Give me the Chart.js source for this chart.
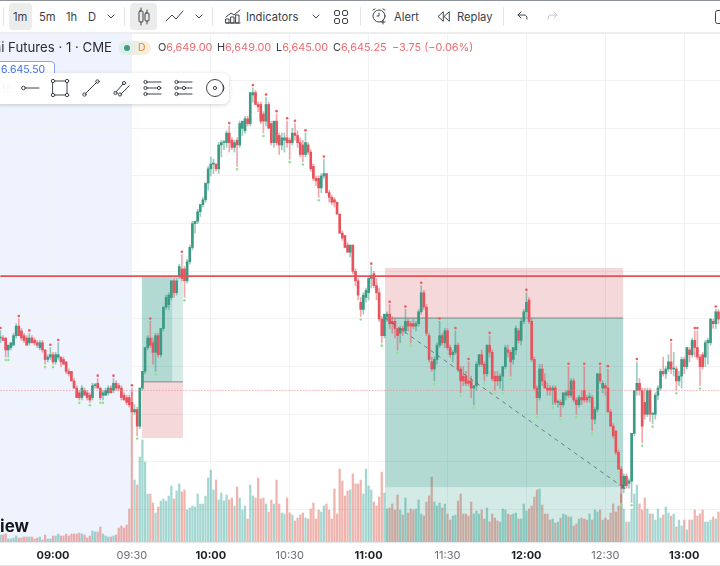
<!DOCTYPE html>
<html lang="en">
<head>
<meta charset="UTF-8">
<title>E-mini Futures 1m</title>
<style>
    html, body { margin: 0; padding: 0; background: #fff; overflow: hidden; }
    body { width: 720px; height: 566px; position: relative; font-family: Inter, "Noto Sans", sans-serif; color: #3b3e46; }
    #chartBox { position: absolute; left: 0; top: 33px; width: 720px; height: 533px; }
    #topBar { position: absolute; left: 0; top: 0; width: 720px; height: 32px; background: #fff; border-top: 1.5px solid #8d929b; box-sizing: border-box; z-index: 3; }
    #barEdge { position: absolute; left: 0; top: 32px; width: 720px; height: 2px; background: #eeeeee; z-index: 3; }
    #pageEdge { position: absolute; left: 0; top: 565px; width: 720px; height: 1px; background: #e6e6e6; z-index: 3; }
    .t { position: absolute; top: 10px; font-size: 11.2px; line-height: 15px; white-space: nowrap; z-index: 4; }
    .btn { position: absolute; top: 3px; height: 27px; background: #ececec; border-radius: 4px; z-index: 3; }
    .sep { position: absolute; top: 7px; width: 1px; height: 19px; background: #e3e4e6; z-index: 4; }
    svg { position: absolute; z-index: 4; overflow: visible; fill: none; stroke: #3f424a; stroke-width: 1; stroke-linecap: round; stroke-linejoin: round; }
    .leg { position: absolute; top: 40px; font-size: 10.9px; line-height: 15px; white-space: nowrap; z-index: 2; }
    .r { color: #ee6a70; }
    #symbol { position: absolute; right: 608px; top: 40px; font-size: 13.2px; line-height: 15px; white-space: nowrap; color: #2b2e36; z-index: 2; }
    #badge { position: absolute; left: 119px; top: 41px; width: 32px; height: 14px; border-radius: 7px; background: linear-gradient(90deg, #d8efe9, #fdeee0); z-index: 2; }
    #badge i { position: absolute; left: 5px; top: 4px; width: 6px; height: 6px; border-radius: 3px; background: #3e9c86; }
    #badge b { position: absolute; left: 19px; top: 0; font-size: 10.5px; line-height: 14px; color: #ef9a3c; font-weight: 500; }
    #priceTag { position: absolute; left: -12px; top: 61px; width: 65px; height: 14px; border: 1px solid #86a5f7; border-radius: 4px; background: #fff; color: #3f6fee; font-size: 10.5px; line-height: 15px; z-index: 2; }
    #priceTag span { position: absolute; left: 12px; top: 0; }
    #drawBar { position: absolute; left: -8px; top: 73px; width: 237px; height: 31px; background: #fff; border-radius: 6px; box-shadow: 0 1px 4px rgba(0,0,0,.18); z-index: 2; }
    #watermark { position: absolute; right: 691px; top: 516px; font-size: 17px; line-height: 20px; font-weight: 700; color: #131722; white-space: nowrap; z-index: 2; text-shadow: 0 0 3px #fff; }
</style>
</head>
<body>

<div id="topBar"></div>
<div id="barEdge"></div>
<div id="pageEdge"></div>

<div class="sep" style="left:3px"></div>
<div class="btn" style="left:9px;width:23px"></div>
<div class="t" style="left:13px">1m</div>
<div class="t" style="left:39px">5m</div>
<div class="t" style="left:66px">1h</div>
<div class="t" style="left:88px">D</div>
<svg style="left:107px;top:15px" width="8" height="4"><path d="M1 0l3 3 3-3"/></svg>
<div class="sep" style="left:124px"></div>
<div class="btn" style="left:130px;width:27px"></div>
<svg style="left:137px;top:8px" width="14" height="18"><path d="M4 0v3M4 14v3M10 2v3M10 13v3"/><rect x="2" y="3" width="4" height="11" rx="1"/><rect x="8" y="5" width="4" height="8" rx="1"/></svg>
<svg style="left:165px;top:10px" width="19" height="13"><path d="M1 11l6-6 4 4 7-8"/></svg>
<svg style="left:195px;top:15px" width="8" height="4"><path d="M1 0l3 3 3-3"/></svg>
<div class="sep" style="left:212px"></div>
<svg style="left:225px;top:8px" width="16" height="16"><path d="M1 9l5-4 3 2 6-5M1 15h14"/><rect x="1" y="11" width="3" height="4"/><rect x="6" y="9" width="3" height="6"/><rect x="11" y="7" width="3" height="8"/></svg>
<div class="t" style="left:246px">Indicators</div>
<svg style="left:312px;top:15px" width="8" height="4"><path d="M1 0l3 3 3-3"/></svg>
<svg style="left:334px;top:10px" width="14" height="14"><rect x="0.5" y="0.5" width="5" height="5" rx="1.5"/><rect x="8.5" y="0.5" width="5" height="5" rx="1.5"/><rect x="0.5" y="8.5" width="5" height="5" rx="1.5"/><rect x="8.5" y="8.5" width="5" height="5" rx="1.5"/></svg>
<div class="sep" style="left:360px"></div>
<svg style="left:371px;top:8px" width="16" height="16"><circle cx="8" cy="8" r="6"/><path d="M8 5v3h-2M2 2l2-1M14 2l-2-1M12 12v4M10 14h4"/></svg>
<div class="t" style="left:394px">Alert</div>
<svg style="left:437px;top:11px" width="13" height="11"><path d="M6 1L1 5.5 6 10zM12 1L7 5.5 12 10z"/></svg>
<div class="t" style="left:457px">Replay</div>
<div class="sep" style="left:503px"></div>
<svg style="left:517px;top:11px" width="11" height="9"><path d="M4 1L1 4l3 3M1 4h6c2 0 3 1 3 4"/></svg>
<svg style="left:547px;top:11px;stroke:#c4c6ca" width="11" height="9"><path d="M7 1l3 3-3 3M10 4H4C2 4 1 5 1 8"/></svg>
<svg style="left:715px;top:10px" width="10" height="14"><rect x="0.5" y="0.5" width="12" height="13" rx="2"/></svg>

<div id="symbol">S&amp;P 500 E-mini Futures · 1 · CME</div>
<div id="badge"><i></i><b>D</b></div>
<div class="leg" style="left:158px">O<span class="r">6,649.00</span></div>
<div class="leg" style="left:217px">H<span class="r">6,649.00</span></div>
<div class="leg" style="left:276px">L<span class="r">6,645.00</span></div>
<div class="leg" style="left:333px">C<span class="r">6,645.25</span></div>
<div class="leg r" style="left:392px">−3.75 (−0.06%)</div>

<div id="priceTag"><span>6,645.50</span></div>
<div id="drawBar"></div>
<svg style="left:3px;top:84px;z-index:5;stroke:#c9cbcf" width="6" height="9"><path d="M1 1h0M5 1h0M1 4h0M5 4h0M1 8h0M5 8h0"/></svg>
<svg style="left:21px;top:84px;z-index:5" width="18" height="8"><circle cx="2.5" cy="4" r="1.8"/><path d="M4.5 4H18"/></svg>
<svg style="left:51px;top:79px;z-index:5" width="18" height="18"><rect x="2" y="2" width="14" height="14"/><circle cx="2" cy="2" r="1.7" fill="#fff"/><circle cx="16" cy="2" r="1.7" fill="#fff"/><circle cx="2" cy="16" r="1.7" fill="#fff"/><circle cx="16" cy="16" r="1.7" fill="#fff"/></svg>
<svg style="left:82px;top:79px;z-index:5" width="18" height="18"><path d="M3 15L15 3"/><circle cx="2.5" cy="15.5" r="1.7"/><circle cx="15.5" cy="2.5" r="1.7"/></svg>
<svg style="left:113px;top:79px;z-index:5" width="18" height="18"><path d="M3 13L10 5M8 15l8-8"/><circle cx="2.5" cy="14" r="1.6"/><circle cx="11" cy="4" r="1.6"/><circle cx="7" cy="15.5" r="1.6"/></svg>
<svg style="left:143px;top:79px;z-index:5" width="19" height="18"><path d="M4 3h14M4 9h14M4 15h14"/><circle cx="2.5" cy="3" r="1.6"/><circle cx="2.5" cy="9" r="1.6"/><circle cx="2.5" cy="15" r="1.6"/><circle cx="16" cy="9" r="1.6" fill="#fff"/></svg>
<svg style="left:174px;top:79px;z-index:5" width="19" height="18"><path d="M4 3h14M4 9h14M4 15h14"/><circle cx="2.5" cy="3" r="1.6"/><circle cx="2.5" cy="9" r="1.6"/><circle cx="2.5" cy="15" r="1.6"/><circle cx="10" cy="9" r="1.6" fill="#fff"/></svg>
<svg style="left:206px;top:79px;z-index:5" width="19" height="18"><circle cx="9" cy="9" r="8.5"/><circle cx="9" cy="9" r="1.6"/><path d="M17 6l1 3-1 3"/></svg>

<div id="watermark">TradingView</div>

<div id="chartBox"><canvas id="chart"></canvas></div>

<script src="https://cdn.jsdelivr.net/npm/chart.js"></script>
<script>
    // one candle per minute, first one at 08:40. Prices are points above priceBase
    const priceBase = 6600;
    const firstMinute = 520;

    const opens = [
        43,43,43,41.75,42,42.25,43.25,44.25,43.75,43.25,
        43,42.5,43,42.75,42.5,42,42.5,41.75,40.75,41,
        41.25,40.5,41,41,40.75,40.5,39.5,39.5,38.5,37.75,
        37.25,36.75,37.5,37.25,37,36.75,38,38.25,37.75,37,
        37,37.25,37.75,37.5,38.25,38,37.75,37,36.75,36.75,
        36.25,35.25,35.5,33.75,37.75,39.5,42,43,42.5,41.5,
        43.25,41.25,44,46.25,46.5,47.25,49,47.75,49.5,50.25,
        50.25,49,51,52.5,55,55.25,56.25,57,57.5,59.25,
        60.75,61.25,61.25,60.75,63.25,63.5,63.5,64.5,63.75,63,
        63.75,63.25,65,64.75,66,65.5,68.5,68.75,67.5,67.5,
        66.5,65.75,67.5,65.5,63.5,65.75,64.25,63.25,63.75,64,
        63.75,63.5,64.5,64.25,63.5,63.25,62.25,63.25,62.5,61,
        59.75,59.75,58.75,60,60.25,58.25,57.75,57.5,57.25,56,
        54,53.75,52.75,52,52.75,50,49,46.75,46,47.25,
        47.75,49.25,49.75,48.5,47.75,45,43.25,45.25,45.5,44.75,
        44.75,44,43.5,44,43.75,44.75,44.5,44.5,44.25,44.5,
        45.75,47.75,46.25,43.25,40.5,39.75,40.75,42.25,43.25,42.5,
        43.75,42,41.25,41.5,42.25,39.75,39,39,38.5,38.5,
        37.75,38,40.25,41.25,40.25,39.25,42.25,41.5,39,39,
        38.5,39,40,41.75,41.5,40.75,41.75,43.75,42.75,44.75,
        45.75,47,44.75,40.75,37.75,36.75,39.75,38.5,37.75,37.75,
        37.5,37.75,36.25,36.25,36,37,37.5,37,38.5,36.5,
        36,36.75,37.5,36.75,36.75,36.75,34.5,35.5,39.25,37.75,
        38,37.75,35.25,33.75,33.25,31,29.25,27.5,28.5,27.75,
        28,33,37.5,38.25,37.5,36.25,35,37.5,35,35,
        37,37.75,39.5,39.25,39.75,40.5,39.75,39.75,38.5,39,
        40.75,40,41.75,41.25,42.75,42,41,41.25,41,42.5,
        42.5,44.75,44.5,45.75
    ];
    const highs = [
        43.75,43.25,43,42.25,42.5,43.5,44.5,45,44,43.5,
        43.25,43.5,43.25,43,42.75,42.75,42.75,41.75,41.25,42,
        41.5,41.5,42.5,41,41,40.5,39.75,39.5,38.75,38,
        37.5,38,37.75,37.5,37.25,38.25,38.25,38.75,37.75,37.5,
        37.75,38,38,38.75,38.5,38.25,38,37.25,37,37,
        37.75,36,35.75,37.75,39.5,42,43.25,44.75,43,43.5,
        43.5,44,46.25,47.5,47.75,49,49.25,49.25,50.75,51.75,
        50.5,51.25,52.75,55.25,55.25,56.5,57,57.75,59.25,61,
        62,61.75,61.25,63.5,63.75,63.75,64.75,65.25,64,63.75,
        64,65.75,65.75,66.25,66.25,68.75,69.25,69,67.75,67.75,
        66.75,68.25,67.75,65.75,65.75,66.5,64.5,64.5,64.5,65.75,
        64,65,65.5,64.75,64,63.75,64.5,63.5,62.75,61.25,
        60,60,60.25,61.75,60.25,58.5,58,57.75,57.25,56,
        54.25,53.75,53,52.75,52.75,50.25,49.25,47.25,47.75,48.25,
        49.5,50.5,50,49.25,48.25,45.25,45.5,45.75,46.5,45.25,
        45,44,44.25,44.25,46,45,44.75,45,44.75,46,
        48.5,48,46.5,43.5,41,41,42.5,44.75,43.5,44,
        44,42.25,41.75,43.75,42.5,40,40,39.5,40.5,39,
        38,40.5,41.25,41.75,40.5,42.25,43.25,41.75,39.5,39.5,
        39.25,40,42.25,42.25,41.75,42,44.25,44,45,46,
        47.75,47.25,45,41,38,40.25,40.25,39.25,38.25,38,
        38,38,36.5,36.5,37.25,37.5,40,38.75,38.75,36.75,
        37,37.5,40,37,37.25,37,35.75,39.25,40,38.5,
        38.25,39.75,35.5,34,33.25,31.25,29.5,28.75,28.75,28.25,
        33,37.5,40.5,38.75,37.75,37.75,37.75,37.75,35.25,37.25,
        38,39.75,41,40,41.25,42.5,41.5,40,39.5,41,
        41,42,42,43,43.75,43.75,41.25,41.5,42.75,43,
        45,45,46,46
    ];
    const lows = [
        42.5,42.75,41,41,41.75,42.25,43,43.25,42.75,42.5,
        42.25,42.25,42.5,42.25,42,41.75,41.5,40.25,40.5,40.75,
        40.25,40.25,40.75,40,40.25,39.25,39,38.5,37.75,36.75,
        36.5,36.5,37,36.5,36.25,36.5,37.75,37.75,36.5,36.5,
        37,37,37.25,37.25,37.5,37.5,36.5,36.5,36,35.75,
        35.25,35,32.75,33.5,37.5,39.25,41.75,42,40.25,39.5,
        41,41,43.75,46,46,47,47.25,47.5,49.25,49,
        47.25,48.75,50.75,52.25,54,55,55.75,56.75,57.25,58.5,
        60,60.25,60.5,60.25,62,62.75,63,62.5,62.75,62.5,
        61,63,64.25,64.5,65.25,65.25,67.75,67.5,66.75,65.5,
        64.5,65.25,65,63.25,63,63.25,62.25,62.75,62.5,63,
        61.75,63.25,63.75,63,62,61.5,62,62.25,60.5,59.5,
        59,57.75,58.25,59.75,58.25,57.25,57,56.75,56,54,
        53.25,52.5,52,51.5,49.75,48.5,47,45.25,45.5,46.75,
        47,48.25,48.25,47,44.75,42.5,43,44.75,44,43.5,
        43,41.75,42.5,43.25,43.5,43.75,42.5,44,43.75,44.25,
        45.5,46,43.25,40.5,39.5,38.5,40.25,42,42.25,42,
        41.75,41,40.5,41.25,39.5,37.25,38,38,38,36.75,
        36,37.5,40,40,38.5,39,41,38.5,37.5,38,
        37.75,37.5,39.75,41,39,40.25,41.25,42.5,42.25,44.5,
        45.25,44.5,40.5,37.5,35,36.5,38,37.75,37,37,
        36,36,35.75,34.75,35.75,36.5,36.75,36.75,36.25,35,
        35.75,36,36.25,36.25,36.25,33.25,34,35.25,38.25,37.25,
        37,35.25,33.75,32.5,30.75,29.25,25.75,26.75,27.25,27.25,
        25.75,32.75,37,37,32,34.5,34.75,34.25,34,34.5,
        36.5,37.5,39,38.75,39.5,39.25,39,37.5,38,37.75,
        39.25,39.75,40.5,41,41,40.75,38,39.75,40,40.25,
        42.25,44,44,44.5
    ];
    const closes = [
        43,42.75,41.75,42.25,42.5,43.25,44.25,43.25,43,42.75,
        42.25,43,42.5,42.5,42.25,42.5,41.75,40.75,41,41.25,
        40.5,41.25,41.25,40.5,40.25,39.5,39.25,38.5,37.75,36.75,
        36.75,37.75,37,36.75,36.5,38,38,37.75,36.75,37.25,
        37.5,37.75,37.25,38.25,37.75,37.75,36.75,36.5,36.25,36,
        35.25,35.5,33.75,37.75,39.5,42,43,42.25,41.5,43.25,
        41.25,44,46.25,47.25,47.5,49,47.75,49,50.5,49.25,
        49,51,52.5,55,55.25,56.25,57,57.5,59.25,60.75,
        61.25,61.25,60.75,63.25,63.5,63.5,64.5,63.5,63,63.5,
        63.25,65.5,65.75,66,65.5,68.75,68.75,67.5,67.25,65.75,
        65.75,67.5,65,63.5,65.75,63.5,63.25,64,64,63.5,
        63.5,64.5,64.25,63.5,62.25,62.25,63.5,62.5,60.75,59.75,
        59.5,58.75,60,60.25,58.25,57.75,57.25,57.25,56,54,
        53.5,52.5,52,52.75,50,49,47.5,46,47.5,48,
        49.25,49.5,48.5,47.75,45,43.25,45.5,45.5,44.5,44.5,
        44,43.25,44,43.75,44.75,44.25,44.25,44.25,44.5,45.75,
        47.75,46.25,43.5,40.75,39.75,40.75,42.25,43.25,42.5,43.75,
        42,41.25,41.5,42.25,39.75,38.5,38.5,38.25,38.25,37.75,
        38,40.25,41.25,40.25,39.25,42.25,41.5,38.75,38.5,38.5,
        39,40,42,41.5,40.5,42,44,42.75,44.75,45.75,
        46.75,44.75,40.75,37.75,36.75,39.75,38.5,37.75,37.5,37.5,
        37.75,36.25,36.25,36,37.25,37.25,37,38.5,36.5,36,
        36.75,36.5,36.5,36.5,36.75,34.5,35.5,39.25,38.5,38.25,
        37.75,35.25,33.75,32.75,31,29.25,27.5,28.5,27.5,28,
        33,37.5,38.25,37.5,33.75,35,37.5,35,35,37,
        37.75,39.5,39.25,39.75,40.5,39.75,39.75,38.5,39,40.75,
        40,42,41.25,42.75,42,41,40,40,42.5,42.75,
        45,44.5,45.75,45
    ];
    // hundreds of contracts
    const volumes = [
        7,7,8,3,3,4,6,4,4,5,
        5,5,5,3,4,5,2,7,3,3,
        6,6,8,6,6,8,6,8,8,8,
        9,8,7,4,6,11,10,10,15,8,
        6,5,5,6,7,14,16,14,17,33,
        150,62,57,85,102,80,48,48,39,29,
        35,41,43,41,46,56,43,51,58,50,
        52,32,34,36,35,48,38,38,46,64,
        72,52,62,42,49,41,47,42,44,36,
        55,44,32,36,23,57,46,44,64,43,
        44,38,30,42,38,62,38,29,28,44,
        29,27,21,24,27,29,24,23,33,39,
        23,32,30,36,38,32,23,53,28,73,
        61,46,51,52,68,58,58,62,48,73,
        56,52,40,36,45,70,49,33,34,38,
        32,47,32,27,44,29,33,32,33,42,
        28,26,40,46,65,40,36,39,34,38,
        28,22,26,27,41,48,28,28,26,40,
        28,31,28,32,23,34,20,28,24,21,
        20,33,32,28,27,28,29,23,23,38,
        31,33,36,45,52,53,37,28,28,22,
        23,19,20,24,28,27,25,25,16,18,
        23,24,23,22,28,22,32,30,32,22,
        24,22,29,38,30,36,48,33,20,20,
        33,48,57,38,32,44,33,28,28,22,
        33,24,27,35,29,26,28,15,22,16,
        22,12,22,22,32,26,28,32,20,20,
        22,25,23,30
    ];

    // candle numbers that carry a swing marker
    const swingHighs = [0,7,11,19,22,37,43,50,57,69,87,96,101,105,109,112,116,123,141,148,154,160,167,173,178,186,200,216,222,228,231,242,255,264,265,272];
    const swingLows = [2,3,17,20,30,34,38,39,52,59,70,90,100,110,115,121,137,145,151,156,165,175,180,184,188,191,194,204,210,213,219,225,236,240,244,248,257,266];

    const tickLabels = ['09:00','09:30','10:00','10:30','11:00','11:30','12:00','12:30','13:00'];
    const firstTick = 540;

    const sessionOpen = 570;
    const stopLine = 6649.5;
    const prevClose = 6637.5;

    // long and short position tools: minutes and prices
    const longBox = { from: 573.8, split: 585.4, to: 589.4, target: 6649.4, entry: 6638.4, stop: 6632.5 };
    const shortBox = { from: 666.25, to: 756.75, stop: 6650.35, entry: 6645.1, reached: 6627.35, target: 6615 };
    const shortPath = { minutes: [666.25, 756.75], prices: [6645.1, 6627.35] };

    const GREEN = '#3b9a84', RED = '#e8525c';
    const minutes = opens.map((_, i) => firstMinute + i);
    const isUp = i => closes[i] >= opens[i];
    const isHour = c => c.tick && c.tick.value % 60 === 0;
    const swingPoints = (list, values, gap) => list.map(i => ({ x: minutes[i], y: priceBase + values[i] + gap }));

    const wickData = minutes.map((m, i) => ({ x: m, y: [priceBase + lows[i], priceBase + highs[i]] }));
    const bodyData = minutes.map((m, i) => ({ x: m, y: [priceBase + opens[i], priceBase + closes[i]] }));
    const volumeData = minutes.map((m, i) => ({ x: m, y: volumes[i] }));

    const positionTools = {
        id: 'positionTools',
        // session shading goes under the grid
        beforeDraw(chart) {
            const { ctx, chartArea, scales } = chart;
            ctx.save();
            ctx.fillStyle = '#eef3fe';
            ctx.fillRect(chartArea.left, chartArea.top, scales.x.getPixelForValue(sessionOpen) - chartArea.left, chartArea.height);
            ctx.restore();
        },
        // boxes sit over the volume, under the candles
        beforeDatasetDraw(chart, args) {
            if (args.index !== 1) return;
            const { ctx, chartArea, scales } = chart;
            const px = v => scales.x.getPixelForValue(v);
            const py = v => scales.y.getPixelForValue(v);
            const box = (x0, x1, y0, y1, color) => {
                ctx.fillStyle = color;
                ctx.fillRect(px(x0), py(y0), px(x1) - px(x0), py(y1) - py(y0));
            };
            const rule = (x0, x1, y) => {
                ctx.strokeStyle = 'rgba(110,110,110,.75)';
                ctx.lineWidth = 1;
                ctx.beginPath();
                ctx.moveTo(px(x0), py(y));
                ctx.lineTo(px(x1), py(y));
                ctx.stroke();
            };
            const dark = 'rgba(0,130,105,.3)', light = 'rgba(0,130,105,.17)', pink = 'rgba(205,70,80,.21)';
            ctx.save();
            ctx.beginPath();
            ctx.rect(chartArea.left, chartArea.top, chartArea.width, chartArea.height);
            ctx.clip();

            box(longBox.from, longBox.split, longBox.target, longBox.entry, dark);
            box(longBox.split, longBox.to, longBox.target, longBox.entry, light);
            box(longBox.from, longBox.to, longBox.entry, longBox.stop, pink);
            rule(longBox.from, longBox.to, longBox.entry);

            box(shortBox.from, shortBox.to, shortBox.stop, shortBox.entry, pink);
            box(shortBox.from, shortBox.to, shortBox.entry, shortBox.reached, dark);
            box(shortBox.from, shortBox.to, shortBox.reached, shortBox.target, light);
            rule(shortBox.from, shortBox.to, shortBox.entry);
            ctx.restore();
        }
    };

    new Chart(document.getElementById('chart'), {
        type: 'bar',
        plugins: [positionTools],
        data: {
            datasets: [
                {
                    label: 'Volume', yAxisID: 'yv', data: volumeData, barThickness: 1.6, order: 6,
                    backgroundColor: minutes.map((_, i) => isUp(i) ? 'rgba(38,160,146,.42)' : 'rgba(222,92,78,.46)')
                },
                {
                    label: 'Wicks', data: wickData, barThickness: 1, order: 5,
                    backgroundColor: minutes.map((_, i) => isUp(i) ? 'rgba(59,154,132,.5)' : 'rgba(232,82,92,.5)')
                },
                {
                    label: 'Bodies', data: bodyData, barThickness: 2, minBarLength: 1, order: 4,
                    backgroundColor: minutes.map((_, i) => isUp(i) ? GREEN : RED)
                },
                {
                    type: 'line', label: 'Swing highs', data: swingPoints(swingHighs, highs, 0.3), order: 3,
                    showLine: false, pointRadius: 1.3, pointBackgroundColor: '#ef5a5f', pointBorderWidth: 0
                },
                {
                    type: 'line', label: 'Swing lows', data: swingPoints(swingLows, lows, -0.3), order: 3,
                    showLine: false, pointRadius: 1.3, pointBackgroundColor: '#8fe58f', pointBorderWidth: 0
                },
                {
                    type: 'line', label: 'Previous close', order: 2, pointRadius: 0, borderWidth: 1,
                    borderColor: '#e88d92', borderDash: [1, 2],
                    data: [{ x: firstMinute, y: prevClose }, { x: 800, y: prevClose }]
                },
                {
                    type: 'line', label: 'Trade path', order: 2, borderWidth: 1,
                    borderColor: 'rgba(90,95,95,.75)', borderDash: [4, 4],
                    pointRadius: [0, 3], pointStyle: 'triangle', pointRotation: 125,
                    pointBackgroundColor: 'rgba(90,95,95,.75)', pointBorderWidth: 0,
                    data: shortPath.minutes.map((m, i) => ({ x: m, y: shortPath.prices[i] }))
                },
                {
                    type: 'line', label: 'Level', order: 1, pointRadius: 0, borderWidth: 1.8,
                    borderColor: '#e4525a',
                    data: [{ x: firstMinute, y: stopLine }, { x: 800, y: stopLine }]
                }
            ]
        },
        options: {
            responsive: true,
            maintainAspectRatio: false,
            animation: false,
            layout: { autoPadding: false, padding: 0 },
            datasets: { bar: { grouped: false, borderSkipped: false } },
            plugins: { legend: { display: false }, tooltip: { enabled: false } },
            scales: {
                x: {
                    type: 'linear',
                    min: 519.85,
                    max: 793.6,
                    offset: false,
                    afterFit: s => { s.height = 24; },
                    grid: { color: '#f1f2f4', offset: false, drawTicks: false },
                    border: { color: '#e6e7ea' },
                    ticks: {
                        stepSize: 30,
                        includeBounds: false,
                        maxRotation: 0,
                        autoSkip: false,
                        padding: 7,
                        callback: v => tickLabels[(v - firstTick) / 30] || '',
                        color: c => isHour(c) ? '#1c1f27' : '#6b6e76',
                        font: c => ({ family: 'Inter', size: 11, weight: isHour(c) ? '700' : '400' })
                    }
                },
                y: {
                    min: 6621.6,
                    max: 6675,
                    afterFit: s => { s.width = 0; },
                    grid: { color: '#f1f2f4', drawTicks: false },
                    border: { display: false },
                    ticks: { display: false, stepSize: 5, includeBounds: false }
                },
                yv: {
                    display: false,
                    min: 0,
                    max: 509
                }
            }
        }
    });
</script>
</body>
</html>
